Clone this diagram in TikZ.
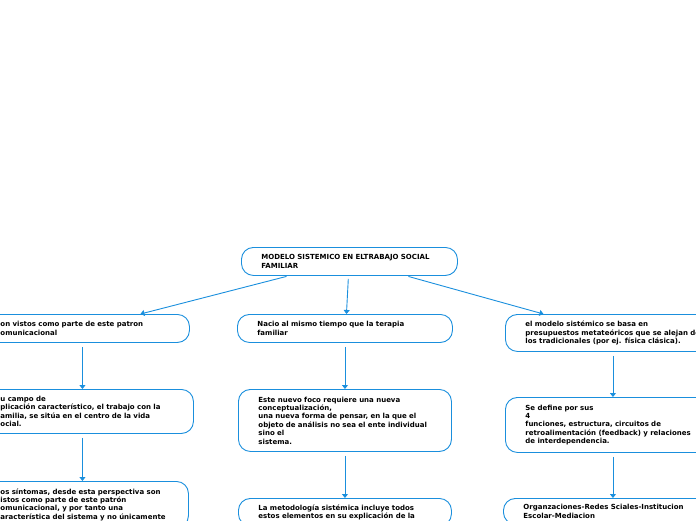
\documentclass[tikz,border=0pt]{standalone}
\usepackage{fontspec}
\setmainfont{DejaVu Sans}
\usetikzlibrary{arrows.meta}
\definecolor{lineblue}{HTML}{1A8FDD}
\begin{document}
\begin{tikzpicture}[x=1pt,y=-1pt,
  box/.style={draw=lineblue, line width=0.9pt, rounded corners=12pt, fill=white,
    inner xsep=20pt, inner ysep=0pt, align=left,
    font=\fontsize{7}{8.4}\selectfont\bfseries},
  link/.style={draw=lineblue, line width=0.9pt, -{Triangle[width=6pt,length=4pt]}}]
\useasboundingbox (0,0) rectangle (696,520);
\clip (0,0) rectangle (696,520);
% top
\node[box, anchor=north west, text width=176pt, minimum height=28pt] (top) at (241,247)
  {MODELO SISTEMICO EN ELTRABAJO SOCIAL\\FAMILIAR};
% left column
\node[box, anchor=north west, text width=169pt, minimum height=28pt] (L1) at (-20,314)
  {on vistos como parte de este patron\\omunicacional};
\node[box, anchor=north west, text width=173pt, minimum height=44pt] (L2) at (-20,389)
  {u campo de\\plicación característico, el trabajo con la\\amilia, se sitúa en el centro de la vida\\ocial.};
\node[box, anchor=north west, text width=168pt, inner ysep=7pt] (L3) at (-20,481)
  {os síntomas, desde esta perspectiva son\\istos como parte de este patrón\\omunicacional, y por tanto una\\aracterística del sistema y no únicamente\\};
% middle column
\node[box, anchor=north west, text width=175pt, minimum height=28pt] (M1) at (237,314)
  {Nacio al mismo tiempo que la terapia\\familiar};
\node[box, anchor=north west, text width=173pt, minimum height=62pt] (M2) at (238,389)
  {Este nuevo foco requiere una nueva\\conceptualización,\\una nueva forma de pensar, en la que el\\objeto de análisis no sea el ente individual\\sino el\\sistema.};
\node[box, anchor=north west, text width=173pt, inner ysep=6pt] (M3) at (238,498)
  {La metodología sistémica incluye todos\\estos elementos en su explicación de la\\};
% right column
\node[box, anchor=north west, text width=175pt, minimum height=37pt] (R1) at (505,314)
  {el modelo sistémico se basa en\\presupuestos metateóricos que se alejan de\\los tradicionales (por ej. física clásica).};
\node[box, anchor=north west, text width=175pt, minimum height=55pt] (R2) at (505,397)
  {Se define por sus\\4\\funciones, estructura, circuitos de\\retroalimentación (feedback) y relaciones\\de interdependencia.};
\node[box, anchor=north west, text width=177pt, inner ysep=6pt] (R3) at (503,498)
  {Organzaciones-Redes Sciales-Institucion\\Escolar-Mediacion\\};
% connectors
\draw[link, shorten <=2pt] ([xshift=-61pt]top.south) -- ([xshift=55.5pt]L1.north);
\draw[link, shorten <=3pt] ([xshift=-1pt]top.south) -- ([xshift=1.5pt]M1.north);
\draw[link, shorten <=2pt] ([xshift=57pt]top.south) -- ([xshift=-69.5pt]R1.north);
\draw[link, shorten <=4pt] ([xshift=-2.5pt]L1.south) -- ([xshift=-2.5pt]L1.south |- L2.north);
\draw[link, shorten <=4pt] ([xshift=-4.5pt]L2.south) -- ([xshift=-4.5pt]L2.south |- L3.north);
\draw[link, shorten <=4pt] (M1.south) -- (M1.south |- M2.north);
\draw[link, shorten <=4pt] (M2.south) -- (M2.south |- M3.north);
\draw[link, shorten <=4pt] (R1.south) -- (R1.south |- R2.north);
\draw[link, shorten <=4pt] (R2.south) -- (R2.south |- R3.north);
\end{tikzpicture}
\end{document}
